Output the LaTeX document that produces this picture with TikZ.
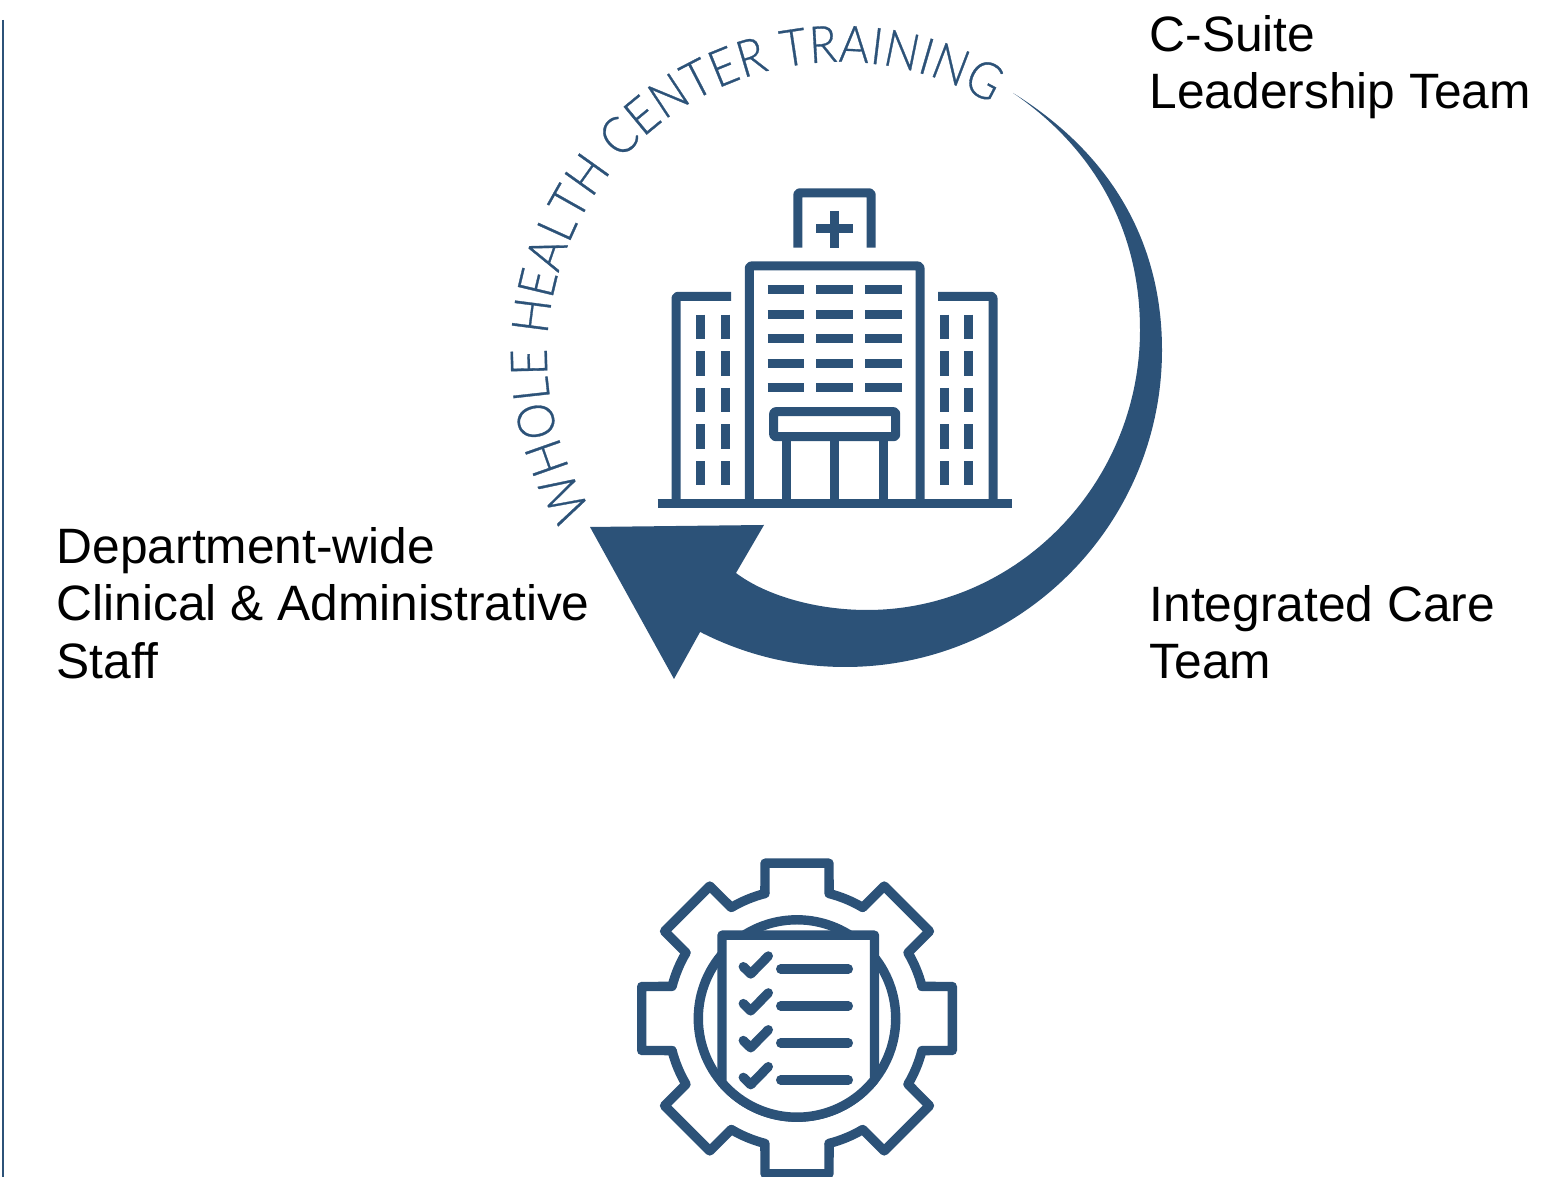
\documentclass[tikz,border=0pt]{standalone}
\usepackage{fontspec}
\usetikzlibrary{decorations.text}
\setmainfont{Liberation Sans}
\newfontfamily\arcfont[FakeStretch=0.9, FakeBold=0.6]{Lato Light}
\definecolor{navy}{HTML}{2C5278}

\begin{document}
\begin{tikzpicture}[x=1pt, y=1pt,
    icon/.style={draw=navy, line width=9pt, line join=round},
    gearline/.style={draw=navy, line width=9.4pt, line join=round, line cap=round},
    bar/.style={draw=navy, line width=9pt},
    label/.style={anchor=north west, inner sep=0pt, align=left, font=\fontsize{49.7}{57.5}\selectfont}]
  \useasboundingbox (0,0) rectangle (1567,1177);

  % Side rule
  \coordinate (ruleTop) at (3,1157);
  \coordinate (ruleEnd) at (3,0);
  \draw[navy, line width=2pt] (ruleTop) -- (ruleEnd);

  % Labels
  \node[label] (suite) at (1149.5,1162) {C-Suite\\Leadership Team};
  \node[label] (care) at (1149.5,592) {Integrated Care\\Team};
  \node[label] (staff) at (56.5,650) {Department-wide\\Clinical \& Administrative\\Staff};

  % Curved title
  \path[decorate, decoration={text along path, text align={fit to path},
      text={|\arcfont\fontsize{51}{51}\selectfont\color{navy}|WHOLE HEALTH CENTER TRAINING}}]
    (840,822) ++ (212:293) arc[start angle=212, end angle=59, radius=293];

  % Crescent arrow
  \fill[navy] (1013,1084) .. controls (1118,1019) and (1162,927) .. (1162,827)
    arc[start angle=0, end angle=-117.2, radius=317]
    -- (674,498) -- (590,650) -- (764,652) -- (736,604)
    .. controls (765,582) and (815,567) .. (867,567)
    .. controls (1017,567) and (1140,693) .. (1140,847)
    .. controls (1140,957) and (1085,1035) .. cycle;

  % Hospital
  \begin{scope}[shift={(0,1177)}, y=-1pt]
    \draw[icon, rounded corners=2pt] (797.8,247.7) -- (797.8,192.8) -- (871.2,192.8) -- (871.2,247.7);
    \draw[bar] (834.7,211) -- (834.7,247.7);
    \draw[bar] (816.3,229) -- (853,229);
    \draw[icon, rounded corners=2pt] (749.3,503) -- (749.3,266) -- (920,266) -- (920,503);
    \draw[icon, rounded corners=2pt] (676,503) -- (676,296.3) -- (731,296.3);
    \draw[icon, rounded corners=2pt] (993,503) -- (993,296.3) -- (938,296.3);
    \draw[bar] (657.7,503.7) -- (1011.7,503.7);
    \draw[icon, rounded corners=2pt] (773.7,411.7) rectangle (895.7,436.7);
    \foreach \px in {786,834.7,883.3}
      \draw[bar] (\px,436.7) -- (\px,503);
    % Main block windows
    \foreach \py in {290,314.4,338.8,363.2,387.6}
      \foreach \pxa/\pxb in {767.7/804,816.3/853,865/901.7}
        \draw[bar] (\pxa,\py) -- (\pxb,\py);
    % Side block windows
    \foreach \py in {314.7,351.3,387.9,424.5,461.1}
      \foreach \px in {700.5,725,944.3,968.7}
        \draw[bar] (\px,\py) -- (\px,\py+24.4);
  \end{scope}

  % Gear with checklist
  \begin{scope}[shift={(797,158.5)}]
    \foreach \a in {0,45,...,315}
      \draw[gearline, rotate=\a] (104.4:129) -- (-32,155.3) -- (32,155.3) -- (75.6:129)
        arc[start angle=75.6, end angle=59.4, radius=129];
    \draw[gearline] (0,0) circle[radius=98.7];
    \draw[gearline, fill=white] (220.5:98.7) -- (-75,83.3) -- (77.5,83.3) -- (321.7:98.7)
      arc[start angle=-38.3, end angle=-139.5, radius=98.7];
    \foreach \n in {0,1,2,3} {
      \draw[gearline] (-53.7,51.8-36.9*\n) -- (-46.3,44.5-36.9*\n) -- (-28.7,62.5-36.9*\n);
      \draw[gearline] (-16.3,49.5-37*\n) -- (51.3,49.5-37*\n);
    }
  \end{scope}
\end{tikzpicture}
\end{document}
